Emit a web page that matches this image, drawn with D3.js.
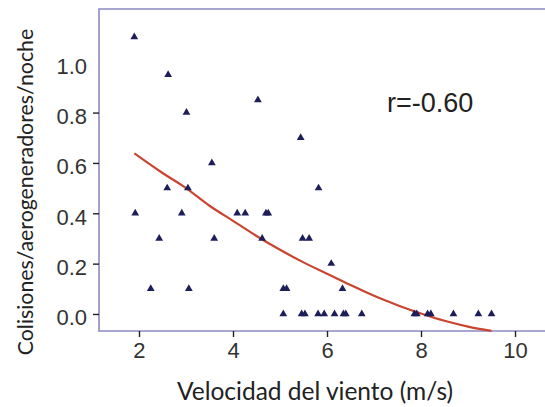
<!DOCTYPE html>
<html>
<head>
<meta charset="utf-8">
<script src="https://cdn.jsdelivr.net/npm/d3@7"></script>
<style>
  body { margin: 0; background: #fff; }
  svg { display: block; }
</style>
</head>
<body>
<script>
// wind speed (m/s) and collisions per turbine per night
var speed = [1.90, 2.62, 3.01, 4.53, 5.44, 3.55, 2.60, 3.04, 5.82, 1.92, 2.91, 4.09, 4.26, 4.70, 4.75,
             2.43, 3.60, 4.62, 5.48, 5.62, 6.09, 2.25, 3.06, 5.07, 5.14, 6.33,
             5.07, 5.46, 5.53, 5.81, 5.94, 6.16, 6.35, 6.40, 6.74, 7.86, 7.91, 8.14, 8.21, 8.69, 9.22, 9.50];
var collisions = [1.10, 0.95, 0.80, 0.85, 0.70, 0.60, 0.50, 0.50, 0.50, 0.40, 0.40, 0.40, 0.40, 0.40, 0.40,
                  0.30, 0.30, 0.30, 0.30, 0.30, 0.20, 0.10, 0.10, 0.10, 0.10, 0.10,
                  0, 0, 0, 0, 0, 0, 0, 0, 0, 0, 0, 0, 0, 0, 0, 0];

// fitted curve
var fitX = [1.9, 2.5, 3.0, 3.5, 4.0, 4.5, 5.0, 5.5, 6.0, 6.5, 7.0, 7.5, 8.0, 8.5, 9.0, 9.5];
var fitY = [0.638, 0.56, 0.50, 0.43, 0.37, 0.31, 0.255, 0.205, 0.16, 0.115, 0.072, 0.035, 0.002, -0.027, -0.05, -0.067];

var xTicks = [2, 4, 6, 8, 10];
var yTicks = [0, 0.2, 0.4, 0.6, 0.8, 1.0];
var rLabel = "r=-0.60";

var width = 545, height = 407;
var margin = {left: 99, top: 9, right: 0, bottom: 76};

var svg = d3.select("body").append("svg")
    .attr("width", width)
    .attr("height", height);

var x = d3.scaleLinear()
    .domain([1.149, 10.638])
    .range([margin.left, width - margin.right]);
var y = d3.scaleLinear()
    .domain([-0.0676, 1.2115])
    .range([height - margin.bottom, margin.top]);

// frame: left, top and bottom edges (right edge is off the picture)
svg.append("path")
    .attr("d", "M" + (width + 10) + "," + y.range()[1] +
               "H" + x.range()[0] +
               "V" + y.range()[0] +
               "H" + (width + 10))
    .attr("fill", "none")
    .attr("stroke", "#8a8ac0")
    .attr("stroke-width", 1.6);

var xAxis = d3.axisBottom(x).tickValues(xTicks).tickSize(6).tickPadding(5);
var yAxis = d3.axisLeft(y).tickValues(yTicks).tickSize(6).tickPadding(6)
    .tickFormat(d3.format(".1f"));

var gx = svg.append("g")
    .attr("transform", "translate(0," + y.range()[0] + ")")
    .call(xAxis);
var gy = svg.append("g")
    .attr("transform", "translate(" + x.range()[0] + ",0)")
    .call(yAxis);

[gx, gy].forEach(function(g){
  g.select(".domain").remove();
  g.selectAll(".tick line").attr("stroke", "#222").attr("stroke-width", 1.4);
  g.selectAll(".tick text")
    .attr("fill", "#333")
    .style("font-family", "'Liberation Sans', Arial, sans-serif")
    .style("font-size", "22px");
});
gy.selectAll(".tick text").attr("dy", "0.5em");
// no tick mark next to 1.0 in the original
gy.selectAll(".tick").filter(function(d){ return d === 1; }).select("line").remove();

// fitted curve
var fit = fitX.map(function(d, i){ return [d, fitY[i]]; });
var line = d3.line()
    .x(function(d){ return x(d[0]); })
    .y(function(d){ return y(d[1]); })
    .curve(d3.curveMonotoneX);

svg.append("path")
    .attr("d", line(fit))
    .attr("fill", "none")
    .attr("stroke", "#c9452f")
    .attr("stroke-width", 2.2);

// points
var tri = d3.symbol().type(d3.symbolTriangle).size(26);
svg.append("g").selectAll("path")
    .data(speed)
    .enter().append("path")
    .attr("d", tri)
    .attr("transform", function(d, i){ return "translate(" + x(d) + "," + y(collisions[i]) + ")"; })
    .attr("fill", "#1d1d5a");

// correlation label
svg.append("text")
    .attr("x", 387)
    .attr("y", 112)
    .attr("fill", "#222")
    .style("font-family", "'Liberation Sans', Arial, sans-serif")
    .style("font-size", "27px")
    .text(rLabel);

// axis titles
svg.append("text")
    .attr("x", 315)
    .attr("y", 400)
    .attr("text-anchor", "middle")
    .attr("fill", "#222")
    .style("font-family", "Lato, 'Open Sans', sans-serif")
    .style("font-size", "24.5px")
    .text("Velocidad del viento (m/s)");

svg.append("text")
    .attr("transform", "translate(33,192) rotate(-90)")
    .attr("text-anchor", "middle")
    .attr("fill", "#222")
    .style("font-family", "Lato, 'Open Sans', sans-serif")
    .style("font-size", "21.3px")
    .text("Colisiones/aerogeneradores/noche");
</script>
</body>
</html>
